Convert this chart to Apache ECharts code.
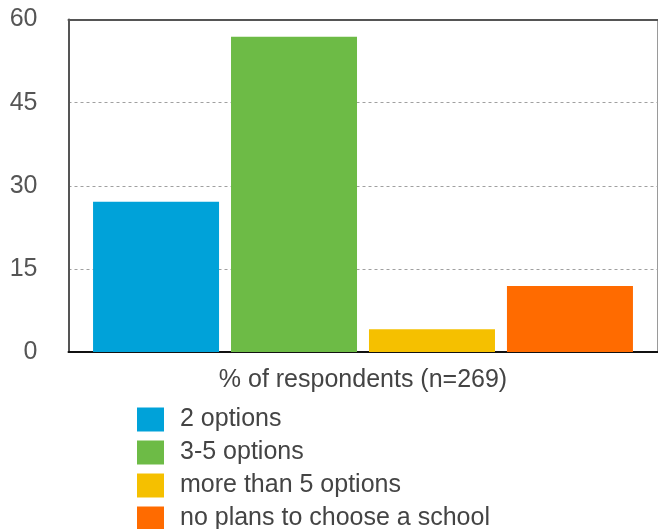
<!DOCTYPE html>
<html>
<head>
<meta charset="utf-8">
<script src="https://cdn.jsdelivr.net/npm/echarts@6/dist/echarts.min.js"></script>
<style>
  html, body { margin: 0; padding: 0; background: #fff; }
  #chart { width: 658px; height: 529px; }
</style>
</head>
<body>
<div id="chart"></div>
<script>
// data
var categories = ['% of respondents (n=269)'];
var seriesNames = ['2 options', '3-5 options', 'more than 5 options', 'no plans to choose a school'];
var seriesValues = [27.1, 56.9, 4.1, 11.9];
var seriesColors = ['#00a2d9', '#6dbb46', '#f5c000', '#ff6b00'];
var yTicks = [0, 15, 30, 45, 60];

var myChart = echarts.init(document.getElementById('chart'));
var font = 'Liberation Sans, Helvetica, Arial, sans-serif';

var series = seriesNames.map(function (name, i) {
  return {
    name: name,
    type: 'bar',
    data: [seriesValues[i]],
    barWidth: 126,
    barGap: '9.5%',
    itemStyle: { color: seriesColors[i] }
  };
});

var option = {
  animation: false,
  textStyle: { fontFamily: font },
  grid: {
    left: 68.5, right: 0.5, top: 19.5, bottom: 177,
    show: true, borderColor: '#9a9a9a', borderWidth: 1
  },
  legend: {
    orient: 'vertical',
    left: 137, top: 407, height: 200,
    padding: 0,
    itemWidth: 27, itemHeight: 24, itemGap: 8,
    icon: 'rect',
    textStyle: { fontSize: 25, lineHeight: 23, color: '#444', fontFamily: font, padding: [0, 0, 0, 11] },
    data: seriesNames
  },
  xAxis: [{
    type: 'category',
    data: categories,
    name: categories[0],
    nameLocation: 'middle',
    nameGap: 16,
    nameTextStyle: { fontSize: 25, color: '#444', fontFamily: font },
    axisLine: { lineStyle: { color: '#111', width: 2 } },
    axisTick: { show: false },
    axisLabel: { show: false }
  }, {
    type: 'category',
    data: categories,
    position: 'top',
    axisLine: { lineStyle: { color: '#555', width: 2 } },
    axisTick: { show: false },
    axisLabel: { show: false }
  }],
  yAxis: {
    type: 'value',
    min: yTicks[0],
    max: yTicks[yTicks.length - 1],
    interval: 15,
    axisLine: { show: true, lineStyle: { color: '#555', width: 2 } },
    axisTick: { show: false },
    axisLabel: { fontSize: 25, color: '#555', margin: 31, fontFamily: font },
    splitLine: { lineStyle: { color: '#a0a0a0', type: [3, 3], width: 1 } }
  },
  series: series
};

myChart.setOption(option);
</script>
</body>
</html>
